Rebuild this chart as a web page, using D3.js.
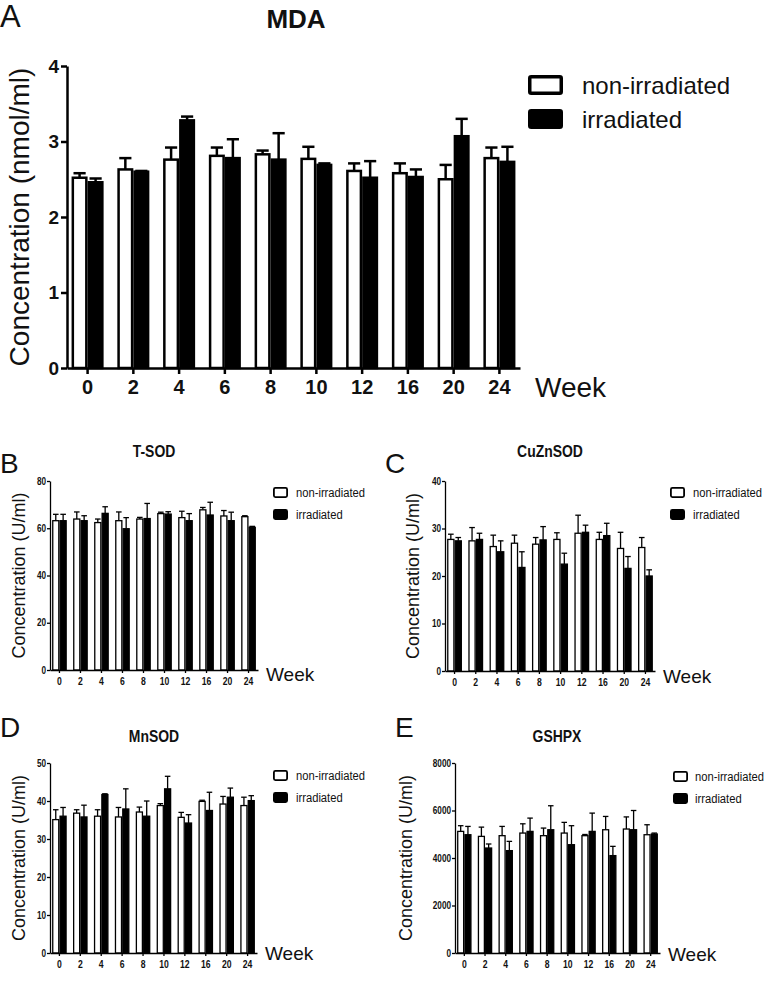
<!DOCTYPE html>
<html>
<head>
<meta charset="utf-8">
<script src="https://cdn.jsdelivr.net/npm/d3@7"></script>
<style>
  html, body { margin: 0; padding: 0; background: #fff; }
  svg { display: block; }
  text { font-family: "Liberation Sans", Arial, sans-serif; fill: #111; }
</style>
</head>
<body>
<script>
// ---------------- data ----------------
const weeks = ["0", "2", "4", "6", "8", "10", "12", "16", "20", "24"];
const seriesNames = ["non-irradiated", "irradiated"];

const mdaNon     = [2.52, 2.63, 2.76, 2.81, 2.83, 2.77, 2.61, 2.58, 2.50, 2.78];
const mdaNonErr  = [0.06, 0.15, 0.16, 0.11, 0.05, 0.16, 0.10, 0.13, 0.19, 0.14];
const mdaIrr     = [2.46, 2.60, 3.28, 2.78, 2.76, 2.69, 2.52, 2.53, 3.07, 2.73];
const mdaIrrErr  = [0.05, 0.01, 0.05, 0.25, 0.35, 0.02, 0.22, 0.10, 0.23, 0.20];

const tsodNon    = [63.2, 63.9, 62.4, 63.2, 63.9, 66.2, 64.5, 67.8, 65.2, 64.9];
const tsodNonErr = [2.7, 3.0, 1.5, 3.7, 0.7, 0.6, 2.7, 1.0, 2.3, 0.4];
const tsodIrr    = [63.2, 63.2, 66.3, 59.8, 64.1, 66.0, 63.2, 65.6, 63.2, 60.4];
const tsodIrrErr = [2.7, 2.1, 2.8, 4.7, 6.4, 1.0, 3.0, 5.4, 3.6, 0.4];

const cuznNon    = [27.7, 27.4, 26.2, 26.9, 26.7, 27.7, 29.0, 27.7, 25.8, 26.0];
const cuznNonErr = [1.1, 2.8, 2.4, 1.7, 1.4, 1.4, 3.8, 1.5, 3.4, 2.1];
const cuznIrr    = [27.4, 27.7, 25.1, 21.8, 27.6, 22.5, 29.2, 28.5, 21.6, 20.0];
const cuznIrrErr = [0.7, 1.3, 2.3, 3.3, 2.8, 2.3, 1.5, 2.6, 2.5, 1.3];

const mnNon      = [35.1, 36.8, 36.0, 35.8, 37.1, 38.8, 35.7, 39.9, 39.2, 38.8];
const mnNonErr   = [2.6, 0.9, 1.7, 2.5, 1.3, 0.5, 1.3, 0.3, 2.0, 2.2];
const mnIrr      = [36.0, 35.8, 41.7, 37.9, 36.0, 43.2, 34.2, 37.5, 41.0, 40.1];
const mnIrrErr   = [2.3, 3.1, 0.2, 5.3, 4.0, 3.3, 2.2, 4.8, 2.4, 1.3];

const gsNon      = [5120, 4910, 4940, 5050, 4940, 5050, 4940, 5190, 5220, 4980];
const gsNonErr   = [240, 390, 390, 390, 320, 450, 50, 560, 510, 420];
const gsIrr      = [4980, 4420, 4310, 5120, 5190, 4560, 5120, 4100, 5190, 5010];
const gsIrrErr   = [350, 170, 390, 560, 1010, 800, 770, 390, 810, 40];

// ---------------- drawing ----------------
const svg = d3.select("body").append("svg").attr("width", 768).attr("height", 982);
const REG = "'Liberation Sans', Arial, sans-serif";

// horizontally condense a text selection by factor k
function condense(sel, k) {
  if (k >= 1) return;
  sel.each(function () {
    const L = this.getComputedTextLength();
    d3.select(this).attr("textLength", L * k).attr("lengthAdjust", "spacingAndGlyphs");
  });
}

function drawPanel(p) {
  const g = svg.append("g");
  const x0 = d3.scaleBand().domain(weeks).range([p.left, p.right]).paddingInner(0.3).paddingOuter(0.1);
  const x1 = d3.scaleBand().domain(seriesNames).range([0, x0.bandwidth()]);
  const y = d3.scaleLinear().domain([0, p.max]).range([p.bottom, p.top]);
  const sw = p.sw;

  seriesNames.forEach((s, si) => {
    const vals = p.values[si], errs = p.errors[si];
    const rows = weeks.map((w, i) => ({ w, v: vals[i], e: errs[i] }));
    const cx = d => x0(d.w) + x1(s) + x1.bandwidth() / 2;
    const cap = x1.bandwidth() * 0.38;
    const eg = g.append("g").attr("stroke", "#000").attr("stroke-width", sw);
    eg.selectAll("line.v").data(rows).join("line")
      .attr("x1", cx).attr("x2", cx)
      .attr("y1", d => y(d.v)).attr("y2", d => y(d.v + d.e));
    eg.selectAll("line.c").data(rows).join("line")
      .attr("x1", d => cx(d) - cap).attr("x2", d => cx(d) + cap)
      .attr("y1", d => y(d.v + d.e)).attr("y2", d => y(d.v + d.e));
    g.append("g").selectAll("rect").data(rows).join("rect")
      .attr("x", d => x0(d.w) + x1(s) + sw / 2)
      .attr("width", x1.bandwidth() - sw)
      .attr("y", d => y(d.v))
      .attr("height", d => y(0) - y(d.v))
      .attr("fill", si === 0 ? "#fff" : "#000")
      .attr("stroke", "#000")
      .attr("stroke-width", sw);
  });

  // y axis
  const ya = g.append("g").attr("transform", `translate(${p.left},0)`)
    .call(d3.axisLeft(y).tickValues(d3.range(0, p.max + 1e-9, p.step)).tickFormat(d3.format("d"))
      .tickSize(p.tick).tickSizeOuter(0).tickPadding(p.tickPad));
  ya.select(".domain").attr("stroke-width", p.axisW);
  ya.selectAll(".tick line").attr("stroke-width", p.axisW);
  ya.selectAll(".tick text").attr("font-family", REG).attr("font-weight", "bold")
    .attr("font-size", p.yTickSize).attr("fill", "#111").call(condense, p.cond);

  // x axis
  const xa = g.append("g").attr("transform", `translate(0,${p.bottom})`)
    .call(d3.axisBottom(x0).tickSize(p.tick).tickSizeOuter(0).tickPadding(p.xTickPad));
  xa.select(".domain").attr("stroke-width", p.axisW);
  xa.selectAll(".tick line").attr("stroke-width", p.axisW);
  xa.selectAll(".tick text").attr("font-family", REG).attr("font-weight", "bold")
    .attr("font-size", p.xTickSize).attr("fill", "#111").call(condense, p.cond);

  // Week
  g.append("text").attr("x", p.right + p.weekDx).attr("y", p.weekY)
    .attr("font-family", REG).attr("font-size", p.weekSize).text("Week");

  // y label
  g.append("text").attr("transform", `translate(${p.ylabX},${(p.top + p.bottom) / 2}) rotate(-90)`)
    .attr("text-anchor", "middle").attr("dominant-baseline", "central")
    .attr("font-family", REG).attr("font-size", p.ylabSize).attr("fill", "#3a3a3a").text(p.ylabel);

  // title
  g.append("text").attr("x", p.titleX).attr("y", p.titleY).attr("text-anchor", "middle")
    .attr("font-family", REG).attr("font-weight", "bold").attr("font-size", p.titleSize).text(p.title)
    .call(condense, p.cond);

  // panel letter
  g.append("text").attr("x", p.letterX).attr("y", p.letterY)
    .attr("font-family", REG).attr("font-size", p.letterSize).text(p.letter);

  // legend
  seriesNames.forEach((s, si) => {
    const ly = p.legY + si * p.legGap;
    g.append("rect").attr("x", p.legX + p.legSW / 2).attr("y", ly + p.legSW / 2)
      .attr("width", p.legW - p.legSW).attr("height", p.legH - p.legSW)
      .attr("fill", si === 0 ? "#fff" : "#000").attr("stroke", "#000").attr("stroke-width", p.legSW)
      .attr("rx", 1.5);
    g.append("text")
      .attr("transform", `translate(${p.legTextX},${ly + p.legH / 2}) scale(${p.legCond},1)`)
      .attr("dominant-baseline", "central")
      .attr("font-family", REG).attr("font-size", p.legSize).attr("fill", "#222").text(s);
  });
}

// Panel A
drawPanel({
  values: [mdaNon, mdaIrr], errors: [mdaNonErr, mdaIrrErr],
  left: 67, right: 520, top: 66, bottom: 368, max: 4, step: 1, sw: 2.5, cond: 1, legCond: 1,
  axisW: 2.5, tick: 6, tickPad: 2, xTickPad: 6, yTickSize: 19, xTickSize: 20,
  weekDx: 15, weekY: 397, weekSize: 28,
  ylabel: "Concentration (nmol/ml)", ylabX: 19, ylabSize: 28,
  title: "MDA", titleX: 296, titleY: 28, titleSize: 26,
  letter: "A", letterX: 0, letterY: 27, letterSize: 31,
  legX: 528, legY: 75, legGap: 34, legW: 35, legH: 20, legSW: 3.5, legTextX: 582, legSize: 24
});

const small = {
  sw: 1.3, axisW: 1.3, tick: 3, tickPad: 1, xTickPad: 5, yTickSize: 10, xTickSize: 10.5, cond: 0.82,
  weekDx: 8, weekSize: 19, ylabSize: 18, titleSize: 17, letterSize: 28,
  legW: 15, legH: 11, legGap: 22, legSW: 1.8, legSize: 13.5, legCond: 0.83
};

// Panel B
drawPanel(Object.assign({}, small, {
  values: [tsodNon, tsodIrr], errors: [tsodNonErr, tsodIrrErr],
  left: 50, right: 258, top: 481, bottom: 670, max: 80, step: 20,
  weekY: 681, ylabel: "Concentration (U/ml)", ylabX: 19,
  title: "T-SOD", titleX: 154, titleY: 457, letter: "B", letterX: 0, letterY: 473,
  legX: 273, legY: 487, legTextX: 296
}));

// Panel C
drawPanel(Object.assign({}, small, {
  values: [cuznNon, cuznIrr], errors: [cuznNonErr, cuznIrrErr],
  left: 445, right: 655, top: 481, bottom: 671, max: 40, step: 10,
  weekY: 683, ylabel: "Concentration (U/ml)", ylabX: 413,
  title: "CuZnSOD", titleX: 550, titleY: 457, letter: "C", letterX: 385, letterY: 473,
  legX: 670, legY: 487, legTextX: 693
}));

// Panel D
drawPanel(Object.assign({}, small, {
  values: [mnNon, mnIrr], errors: [mnNonErr, mnIrrErr],
  left: 50, right: 257, top: 763, bottom: 953, max: 50, step: 10,
  weekY: 960, ylabel: "Concentration (U/ml)", ylabX: 19,
  title: "MnSOD", titleX: 154, titleY: 742, letter: "D", letterX: 0, letterY: 737,
  legX: 273, legY: 770, legTextX: 296
}));

// Panel E
drawPanel(Object.assign({}, small, {
  values: [gsNon, gsIrr], errors: [gsNonErr, gsIrrErr],
  left: 455, right: 660, top: 763, bottom: 953, max: 8000, step: 2000,
  weekY: 961, ylabel: "Concentration (U/ml)", ylabX: 406,
  title: "GSHPX", titleX: 557, titleY: 742, letter: "E", letterX: 395, letterY: 737,
  legX: 673, legY: 771, legTextX: 695
}));
</script>
</body>
</html>
